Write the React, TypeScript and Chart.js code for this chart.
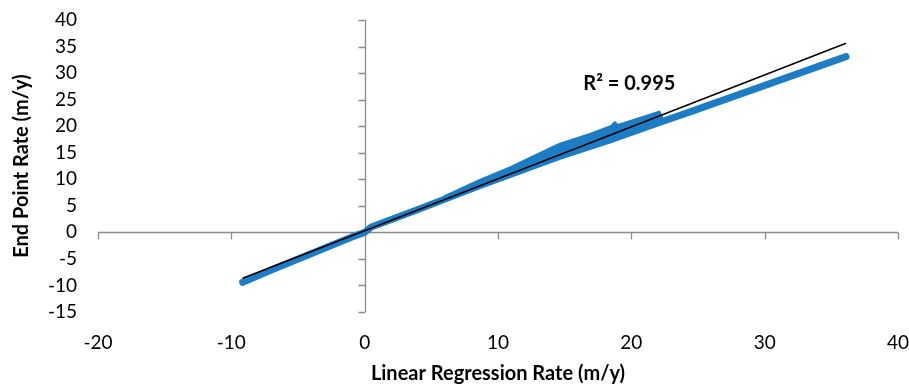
import React, { useEffect, useRef } from "react";
import { Chart, registerables } from "chart.js";

Chart.register(...registerables);

// Lower (main) band of transects: Linear Regression Rate vs End Point Rate (m/y)
const mainLRR = [-9.15, -7.0, -1.0, 0.0, 0.5, 4.0, 8.6, 14.6, 18.4, 22.1, 24.4, 30.6, 36.1];
const mainEPR = [-9.4, -7.1, -0.9, 0.0, 1.0, 4.3, 8.8, 14.3, 17.4, 20.7, 22.7, 28.2, 33.1];

// Upper edge of the wedge of points around 6-22 m/y
const upperLRR = [6.0, 8.6, 10.9, 14.6, 16.9, 18.5, 18.75, 19.0, 22.1, 22.3];
const upperEPR = [6.8, 9.8, 12.2, 16.6, 18.5, 20.0, 20.7, 20.2, 22.7, 21.6];

// Linear trendline end points
const trendLRR = [-9.15, 36.1];
const trendEPR = [-8.65, 35.6];

const xTicks = [-20, -10, 0, 10, 20, 30, 40];
const yTicks = [-15, -10, -5, 0, 5, 10, 15, 20, 25, 30, 35, 40];

const xTitle = "Linear Regression Rate (m/y)";
const yTitle = "End Point Rate (m/y)";
const r2Label = "R² = 0.995";
const r2At = { x: 19.85, y: 28.1 };

const BLUE = "#1c7cc4";
const AXIS = "#8c8c8c";
const FONT = "Lato, 'Open Sans', sans-serif";

const pts = (xs: number[], ys: number[]) => xs.map((x, i) => ({ x, y: ys[i] }));

const crossAxes = {
  id: "crossAxes",
  beforeDatasetsDraw(chart: any) {
    const { ctx, scales } = chart;
    const x = scales.x;
    const y = scales.y;
    const x0 = Math.round(x.getPixelForValue(0)) + 0.5;
    const y0 = Math.round(y.getPixelForValue(0)) + 0.5;
    const T = 7;
    ctx.save();
    ctx.strokeStyle = AXIS;
    ctx.lineWidth = 1.3;
    ctx.beginPath();
    ctx.moveTo(x0, y.getPixelForValue(yTicks[yTicks.length - 1]));
    ctx.lineTo(x0, y.getPixelForValue(yTicks[0]));
    yTicks.forEach((v) => {
      const p = Math.round(y.getPixelForValue(v)) + 0.5;
      ctx.moveTo(x0 - T, p);
      ctx.lineTo(x0, p);
    });
    ctx.moveTo(x.getPixelForValue(xTicks[0]), y0);
    ctx.lineTo(x.getPixelForValue(xTicks[xTicks.length - 1]), y0);
    xTicks.forEach((v) => {
      const p = Math.round(x.getPixelForValue(v)) + 0.5;
      ctx.moveTo(p, y0);
      ctx.lineTo(p, y0 + T);
    });
    ctx.stroke();
    ctx.restore();
  },
  afterDatasetsDraw(chart: any) {
    const { ctx, scales } = chart;
    ctx.save();
    ctx.fillStyle = "#000";
    ctx.font = `bold 20px ${FONT}`;
    ctx.textAlign = "center";
    ctx.textBaseline = "middle";
    ctx.fillText(r2Label, scales.x.getPixelForValue(r2At.x), scales.y.getPixelForValue(r2At.y));
    ctx.restore();
  },
};

export default function App() {
  const ref = useRef<HTMLCanvasElement | null>(null);
  useEffect(() => {
    if (!ref.current) return;
    const chart = new Chart(ref.current, {
      type: "scatter",
      data: {
        datasets: [
          {
            data: pts(mainLRR, mainEPR),
            showLine: true,
            borderColor: BLUE,
            borderWidth: 7,
            pointRadius: 0,
            borderCapStyle: "round",
            borderJoinStyle: "round",
            order: 2,
          },
          {
            data: pts(upperLRR, upperEPR),
            showLine: true,
            borderColor: BLUE,
            backgroundColor: BLUE,
            borderWidth: 2.5,
            pointRadius: 0,
            borderCapStyle: "round",
            borderJoinStyle: "round",
            fill: 0,
            order: 1,
          },
          {
            data: pts(trendLRR, trendEPR),
            showLine: true,
            borderColor: "#000",
            borderWidth: 1.6,
            pointRadius: 0,
            order: 0,
          },
        ],
      } as any,
      options: {
        animation: false,
        responsive: false,
        maintainAspectRatio: false,
        layout: { padding: { top: 20, right: 11, left: 0, bottom: 0 } },
        plugins: { legend: { display: false }, tooltip: { enabled: false } },
        scales: {
          x: {
            type: "linear",
            position: "bottom",
            min: -20,
            max: 40,
            afterBuildTicks: (s: any) => {
              s.ticks = xTicks.map((v) => ({ value: v }));
            },
            afterFit: (s: any) => {
              s.height = 74;
              s.paddingLeft = 0;
              s.paddingRight = 0;
            },
            grid: { display: false, drawTicks: false },
            border: { display: false },
            ticks: { color: "#000", font: { family: FONT, size: 19 }, padding: 19, maxRotation: 0, autoSkip: false },
            title: {
              display: true,
              text: xTitle,
              color: "#000",
              font: { family: FONT, size: 20, weight: "bold" },
              padding: { top: 0, bottom: 0 },
            },
          },
          y: {
            type: "linear",
            position: "left",
            min: -15,
            max: 40,
            afterBuildTicks: (s: any) => {
              s.ticks = yTicks.map((v) => ({ value: v }));
            },
            afterFit: (s: any) => {
              s.width = 98;
              s.paddingTop = 0;
              s.paddingBottom = 0;
            },
            grid: { display: false, drawTicks: false },
            border: { display: false },
            ticks: { color: "#000", font: { family: FONT, size: 19 }, padding: 21, autoSkip: false },
            title: {
              display: true,
              text: yTitle,
              color: "#000",
              font: { family: FONT, size: 20, weight: "bold" },
              padding: { top: 10, bottom: 0 },
            },
          },
        },
      } as any,
      plugins: [crossAxes],
    });
    return () => chart.destroy();
  }, []);
  return (
    <div style={{ position: "fixed", left: 0, top: 0, width: 909, height: 386, background: "#fff" }}>
      <canvas ref={ref} width={909} height={386} style={{ width: 909, height: 386, display: "block" }} />
    </div>
  );
}
